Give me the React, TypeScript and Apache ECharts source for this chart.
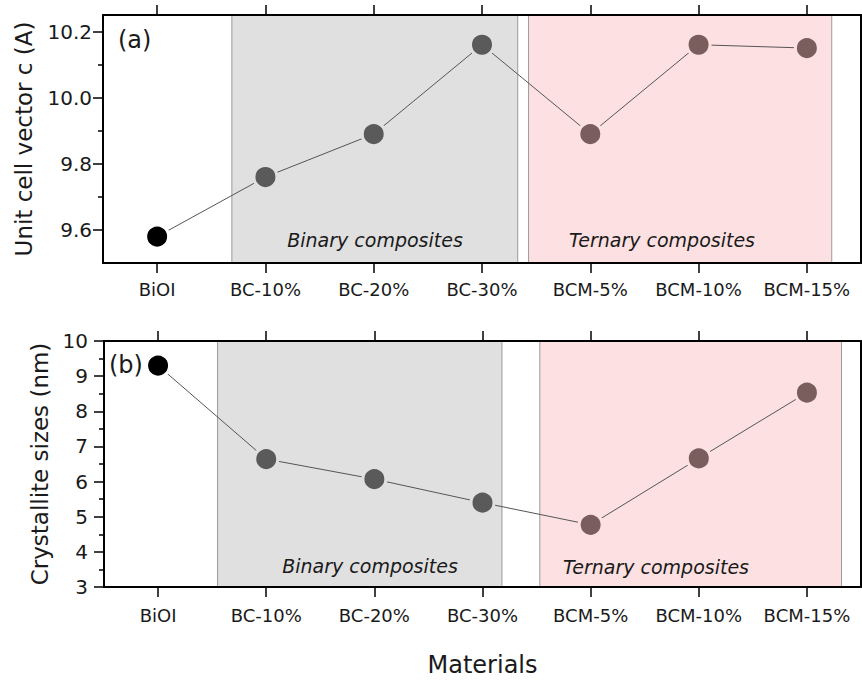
import React, { useEffect, useRef } from "react";
import * as echarts from "echarts";

const categories = ["BiOI", "BC-10%", "BC-20%", "BC-30%", "BCM-5%", "BCM-10%", "BCM-15%"];
const groups = ["pristine", "binary", "binary", "binary", "ternary", "ternary", "ternary"];
const unitCellC = [9.58, 9.76, 9.89, 10.16, 9.89, 10.16, 10.15];
const crystalliteSize = [9.3, 6.64, 6.07, 5.4, 4.77, 6.66, 8.53];

const topYMajor = [9.6, 9.8, 10.0, 10.2];
const topYMinor = [9.7, 9.9, 10.1];
const topYRange = [9.5, 10.25];
const bottomYRange = [3, 10];

// composite regions, in category-index units
const topBands = [
  { from: 0.69, to: 3.33, kind: "binary" },
  { from: 3.43, to: 6.23, kind: "ternary" },
];
const bottomBands = [
  { from: 0.55, to: 3.18, kind: "binary" },
  { from: 3.53, to: 6.32, kind: "ternary" },
];
const bandLabels = { binary: "Binary composites", ternary: "Ternary composites" };

const FONT = "DejaVu Sans, sans-serif";
const TXT = "#1a1a1a";
const markerColor: Record<string, string> = {
  pristine: "#000000",
  binary: "#5a5a5a",
  ternary: "#7a5e5e",
};
const bandFill: Record<string, string> = { binary: "#e0e0e0", ternary: "#fde0e1" };
const markerHalo: Record<string, string> = { pristine: "#ffffff", binary: "#e0e0e0", ternary: "#fde0e1" };

export default function App() {
  const ref = useRef<HTMLDivElement>(null);
  useEffect(() => {
    if (!ref.current) return;
    const chart = echarts.init(ref.current, undefined, { renderer: "svg" });
    const axisLine = { show: true, onZero: false, lineStyle: { color: "#000", width: 2 } };
    const tickStyle = { color: "#000", width: 1.5 };
    const catIndices = categories.map((_, i) => i);
    const grids = [
      { left: 103, top: 15, width: 758, height: 248 },
      { left: 104, top: 341, width: 757, height: 246 },
    ];
    const catAxis = (gi: number, name?: string) => ({
      type: "category",
      gridIndex: gi,
      position: "bottom",
      data: categories,
      boundaryGap: true,
      z: 10,
      axisLine,
      axisTick: { show: true, alignWithLabel: true, interval: 0, length: 10, lineStyle: tickStyle },
      axisLabel: { interval: 0, hideOverlap: false, fontFamily: FONT, fontSize: 18, color: TXT, margin: gi === 0 ? 17 : 19 },
      name,
      nameLocation: "middle",
      nameGap: 66,
      nameTextStyle: { fontFamily: FONT, fontSize: 24, color: TXT },
    });
    // top mirror axis in category-index units (also used for the shaded regions)
    const topAxis = (gi: number) => ({
      type: "value",
      gridIndex: gi,
      position: "top",
      min: -0.5,
      max: 6.5,
      z: 10,
      axisLine,
      axisTick: { show: true, inside: false, length: 10, customValues: catIndices, lineStyle: tickStyle },
      axisLabel: { show: false },
      splitLine: { show: false },
    });
    const rightAxis = (gi: number, range: number[]) => ({
      type: "value",
      gridIndex: gi,
      position: "right",
      min: range[0],
      max: range[1],
      z: 10,
      axisLine,
      axisTick: { show: false },
      axisLabel: { show: false },
      splitLine: { show: false },
    });
    const bandSeries = (xi: number, yi: number, bands: typeof topBands) => ({
      type: "line",
      xAxisIndex: xi,
      yAxisIndex: yi,
      data: [],
      z: 1,
      markArea: {
        silent: true,
        data: bands.map((b) => [
          { xAxis: b.from, itemStyle: { color: bandFill[b.kind], borderColor: "#9a9a9a", borderWidth: 1 } },
          { xAxis: b.to },
        ]),
      },
    });
    const pointSeries = (xi: number, yi: number, values: number[]) => ({
      type: "line",
      xAxisIndex: xi,
      yAxisIndex: yi,
      z: 5,
      symbol: "circle",
      symbolSize: 23,
      lineStyle: { color: "#555", width: 1 },
      data: values.map((v, i) => ({
        value: v,
        itemStyle: { color: markerColor[groups[i]], borderColor: markerHalo[groups[i]], borderWidth: 3 },
      })),
    });
    const label = (x: number, y: number, text: string) => ({
      type: "text",
      x,
      y,
      z: 20,
      style: { text, fontFamily: FONT, fontSize: 19, fontStyle: "italic", fill: TXT, align: "center", verticalAlign: "middle" },
    });

    const option = {
      animation: false,
      backgroundColor: "#fff",
      grid: grids,
      xAxis: [catAxis(0), topAxis(0), catAxis(1, "Materials"), topAxis(1)],
      yAxis: [
        {
          type: "value",
          gridIndex: 0,
          position: "left",
          min: topYRange[0],
          max: topYRange[1],
          z: 10,
          axisLine,
          axisTick: { show: true, length: 10, customValues: topYMajor, lineStyle: tickStyle },
          axisLabel: {
            customValues: topYMajor,
            fontFamily: FONT,
            fontSize: 20,
            color: TXT,
            margin: 11,
            formatter: (v: number) => v.toFixed(1),
          },
          splitLine: { show: false },
          name: "Unit cell vector c (A)",
          nameLocation: "middle",
          nameGap: 68,
          nameTextStyle: { fontFamily: FONT, fontSize: 23, color: TXT },
        },
        {
          type: "value",
          gridIndex: 0,
          position: "left",
          min: topYRange[0],
          max: topYRange[1],
          z: 10,
          axisLine: { show: false, onZero: false },
          axisTick: { show: true, length: 5, customValues: topYMinor, lineStyle: tickStyle },
          axisLabel: { show: false },
          splitLine: { show: false },
        },
        rightAxis(0, topYRange),
        {
          type: "value",
          gridIndex: 1,
          position: "left",
          min: bottomYRange[0],
          max: bottomYRange[1],
          interval: 1,
          z: 10,
          axisLine,
          axisTick: { show: true, length: 10, lineStyle: tickStyle },
          minorTick: { show: true, splitNumber: 2, length: 5, lineStyle: tickStyle },
          axisLabel: { fontFamily: FONT, fontSize: 20, color: TXT, margin: 16 },
          splitLine: { show: false },
          minorSplitLine: { show: false },
          name: "Crystallite sizes (nm)",
          nameLocation: "middle",
          nameGap: 51,
          nameTextStyle: { fontFamily: FONT, fontSize: 23, color: TXT },
        },
        rightAxis(1, bottomYRange),
      ],
      series: [
        bandSeries(1, 0, topBands),
        pointSeries(0, 0, unitCellC),
        bandSeries(3, 3, bottomBands),
        pointSeries(2, 3, crystalliteSize),
      ],
      graphic: [
        { type: "text", left: 118, top: 28, z: 20, style: { text: "(a)", fontFamily: FONT, fontSize: 24, fill: TXT } },
        { type: "text", left: 109, top: 353, z: 20, style: { text: "(b)", fontFamily: FONT, fontSize: 24, fill: TXT } },
        label(375, 240, bandLabels.binary),
        label(662, 240, bandLabels.ternary),
        label(370, 566, bandLabels.binary),
        label(656, 567, bandLabels.ternary),
      ],
    };
    chart.setOption(option as any);
    return () => chart.dispose();
  }, []);
  return (
    <div
      ref={ref}
      style={{ position: "absolute", left: 0, top: 0, width: 862, height: 681, background: "#fff" }}
    />
  );
}
